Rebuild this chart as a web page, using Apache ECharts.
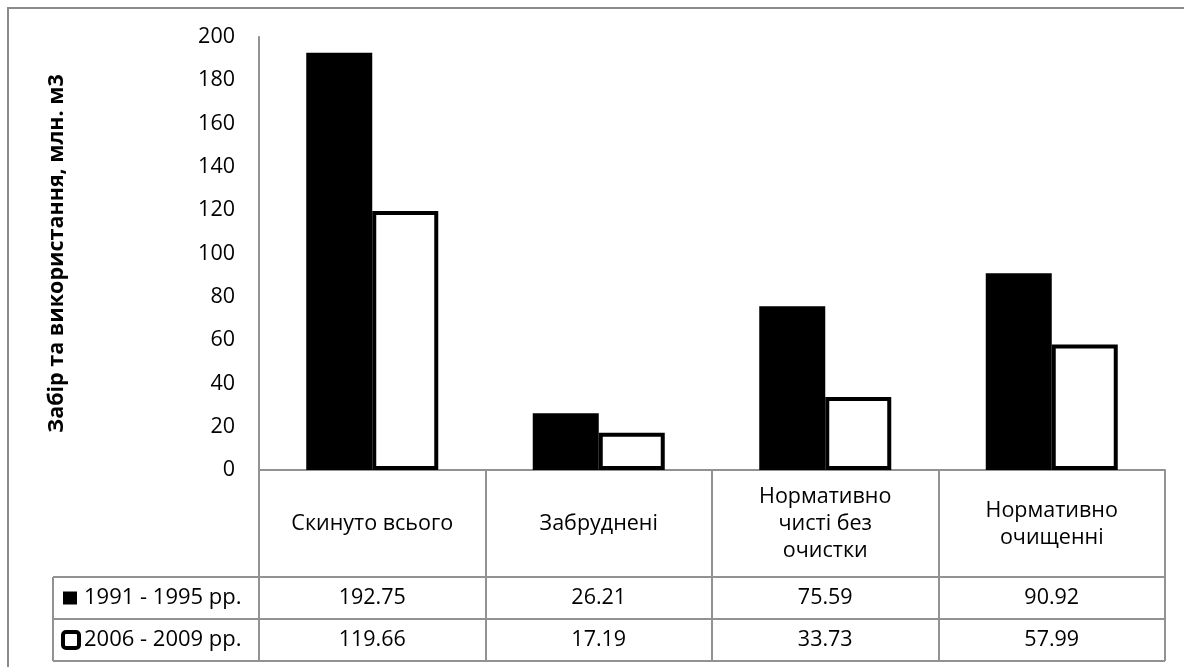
<!DOCTYPE html>
<html>
<head>
<meta charset="utf-8">
<script src="https://cdn.jsdelivr.net/npm/echarts@6/dist/echarts.min.js"></script>
<style>
  html, body { margin: 0; padding: 0; background: #fff; }
  #chart { width: 1184px; height: 667px; }
</style>
</head>
<body>
<div id="chart"></div>
<script>
// Discharge categories and the two periods compared
const categories = ['Скинуто всього', 'Забруднені', 'Нормативно\nчисті без\nочистки', 'Нормативно\nочищенні'];
const seriesNames = ['1991 - 1995 рр.', '2006 - 2009 рр.'];
const values1991 = [192.75, 26.21, 75.59, 90.92];
const values2006 = [119.66, 17.19, 33.73, 57.99];
const yTicks = [0, 20, 40, 60, 80, 100, 120, 140, 160, 180, 200];
const yTitle = 'Забір та використання, млн. м3';

const FONT = '"Open Sans", "Noto Sans", sans-serif';
const GRID = { left: 259, right: 19, top: 37, bottom: 197 };
const ROW_H = 42;          // height of each data-table row
const LEGEND_X = 53;       // left edge of the data-table legend column
const LINE = '#929292';

const chart = echarts.init(document.getElementById('chart'), null, { renderer: 'canvas' });

chart.setOption({
  animation: false,
  backgroundColor: '#fff',
  grid: GRID,
  xAxis: {
    type: 'category',
    data: categories,
    axisLine: { lineStyle: { color: LINE, width: 2 } },
    axisTick: { show: true, length: 191, lineStyle: { color: LINE, width: 2 } },
    axisLabel: {
      interval: 0,
      margin: 54,
      verticalAlign: 'middle',
      lineHeight: 27,
      fontFamily: FONT,
      fontSize: 21.5,
      color: '#000'
    }
  },
  yAxis: {
    type: 'value',
    min: yTicks[0],
    max: yTicks[yTicks.length - 1],
    interval: yTicks[1] - yTicks[0],
    name: yTitle,
    nameLocation: 'middle',
    nameGap: 191,
    nameTextStyle: { fontFamily: FONT, fontSize: 21.5, fontWeight: 'bold', color: '#000' },
    axisLine: { show: true, lineStyle: { color: LINE, width: 2 } },
    axisTick: { show: false },
    splitLine: { show: false },
    axisLabel: { margin: 24, fontFamily: FONT, fontSize: 21.5, color: '#000' }
  },
  series: [
    {
      name: seriesNames[0],
      type: 'bar',
      data: values1991,
      barWidth: 66,
      barGap: '0%',
      itemStyle: { color: '#000' }
    },
    {
      name: seriesNames[1],
      type: 'bar',
      data: values2006,
      barWidth: 66,
      itemStyle: { color: '#fff', borderColor: '#000', borderWidth: 4 }
    }
  ]
});

// Data table under the category axis: rows for each series, with legend keys
function buildTable() {
  const W = 1184, H = 667;
  const xRight = W - GRID.right;
  const yAxisBase = H - GRID.bottom;
  const row1Top = yAxisBase + 107;
  const rows = [row1Top, row1Top + ROW_H, row1Top + 2 * ROW_H];
  const els = [];

  // outer frame (top and left edges)
  els.push({ type: 'polyline', shape: { points: [[8, H + 2], [8, 8], [W + 2, 8]] },
    style: { stroke: '#8a8a8a', lineWidth: 2, fill: null }, silent: true });

  rows.forEach(function (y) {
    els.push({ type: 'line', shape: { x1: LEGEND_X, y1: y, x2: xRight, y2: y },
      style: { stroke: LINE, lineWidth: 2 }, silent: true });
  });
  els.push({ type: 'line', shape: { x1: LEGEND_X, y1: rows[0], x2: LEGEND_X, y2: rows[2] },
    style: { stroke: LINE, lineWidth: 2 }, silent: true });

  const allValues = [values1991, values2006];
  allValues.forEach(function (vals, r) {
    const cy = rows[r] + ROW_H / 2;
    vals.forEach(function (v, i) {
      const cx = chart.convertToPixel({ xAxisIndex: 0 }, i);
      els.push({ type: 'text', x: cx, y: cy, silent: true,
        style: { text: v.toFixed(2), fontFamily: FONT, fontSize: 21.5, fill: '#000',
          align: 'center', verticalAlign: 'middle' } });
    });
    // legend key
    if (r === 0) {
      els.push({ type: 'rect', shape: { x: 63, y: cy - 6.5, width: 14, height: 13 },
        style: { fill: '#000' }, silent: true });
    } else {
      els.push({ type: 'rect', shape: { x: 63, y: cy - 8, width: 16, height: 16, r: 3 },
        style: { fill: '#fff', stroke: '#000', lineWidth: 4 }, silent: true });
    }
    els.push({ type: 'text', x: 84, y: cy, silent: true,
      style: { text: seriesNames[r], fontFamily: FONT, fontSize: 22, fill: '#000',
        align: 'left', verticalAlign: 'middle' } });
  });

  chart.setOption({ graphic: els });
}
buildTable();
</script>
</body>
</html>
